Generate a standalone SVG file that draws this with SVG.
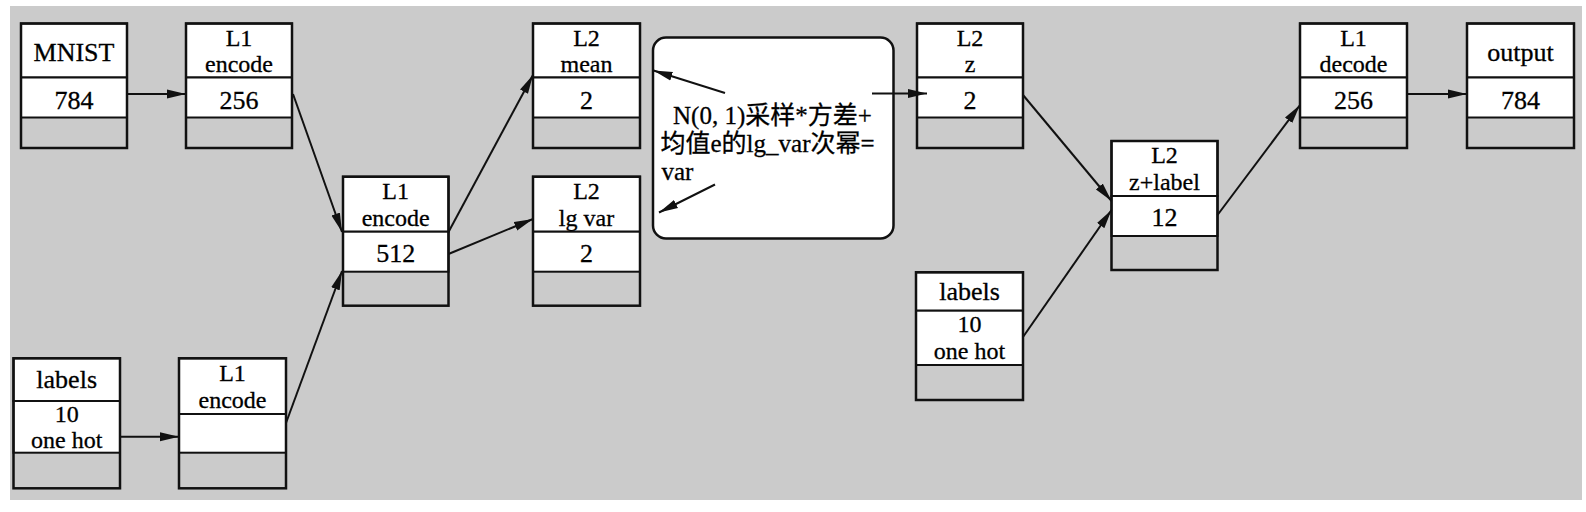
<svg xmlns="http://www.w3.org/2000/svg" width="1586" height="512" viewBox="0 0 1586 512">
<style>
.bg{fill:#cbcbcb}
.cell{fill:#fff;stroke:#111;stroke-width:2}
.frame{fill:none;stroke:#111;stroke-width:2.5}
.t{font-family:"Liberation Serif","Times New Roman","DejaVu Serif",serif;font-size:26px;fill:#000;stroke:#000;stroke-width:0.3;text-anchor:middle}
.t2{font-size:24px}
.note{font-family:"Liberation Serif","Noto Sans CJK SC",serif;font-size:25px;fill:#000;stroke:#000;stroke-width:0.3}
.edge{stroke:#111;stroke-width:2;fill:none;marker-end:url(#ah)}
</style>
<defs>
<marker id="ah" markerUnits="userSpaceOnUse" markerWidth="20" markerHeight="10" refX="19" refY="5" orient="auto">
<path d="M0,0.5 L19,5 L0,9.5 z" fill="#111"/>
</marker>
</defs>
<rect x="0" y="0" width="1586" height="512" fill="#fff"/>
<rect class="bg" x="10" y="6" width="1572" height="494"/>

<g id="mnist">
<rect class="cell" x="21" y="23.5" width="106" height="54"/>
<rect class="cell" x="21" y="77.5" width="106" height="40"/>
<rect class="frame" x="21" y="23.5" width="106" height="124.5"/>
<text class="t" x="74" y="61">MNIST</text>
<text class="t" x="74" y="108.5">784</text>
</g>

<g id="enc1">
<rect class="cell" x="186" y="23.5" width="106" height="54"/>
<rect class="cell" x="186" y="77.5" width="106" height="40"/>
<rect class="frame" x="186" y="23.5" width="106" height="124.5"/>
<text class="t t2" x="239" y="45.5">L1</text>
<text class="t t2" x="239" y="72">encode</text>
<text class="t" x="239" y="108.5">256</text>
</g>

<g id="enc_mid">
<rect class="cell" x="343" y="176.7" width="105.5" height="55"/>
<rect class="cell" x="343" y="231.7" width="105.5" height="40"/>
<rect class="frame" x="343" y="176.7" width="105.5" height="129"/>
<text class="t t2" x="395.7" y="199">L1</text>
<text class="t t2" x="395.7" y="225.5">encode</text>
<text class="t" x="395.7" y="262">512</text>
</g>

<g id="labels_left">
<rect class="cell" x="13.5" y="358.3" width="106.5" height="42.7"/>
<rect class="cell" x="13.5" y="401" width="106.5" height="51.7"/>
<rect class="frame" x="13.5" y="358.3" width="106.5" height="130"/>
<text class="t" x="66.7" y="387.5">labels</text>
<text class="t t2" x="66.7" y="421.5">10</text>
<text class="t t2" x="66.7" y="448">one hot</text>
</g>

<g id="enc_bottom">
<rect class="cell" x="179" y="358.3" width="107" height="55.7"/>
<rect class="cell" x="179" y="414" width="107" height="38.7"/>
<rect class="frame" x="179" y="358.3" width="107" height="130"/>
<text class="t t2" x="232.5" y="381">L1</text>
<text class="t t2" x="232.5" y="407.5">encode</text>
</g>

<g id="mean">
<rect class="cell" x="533" y="23.5" width="107" height="54"/>
<rect class="cell" x="533" y="77.5" width="107" height="40"/>
<rect class="frame" x="533" y="23.5" width="107" height="124.5"/>
<text class="t t2" x="586.5" y="45.5">L2</text>
<text class="t t2" x="586.5" y="72">mean</text>
<text class="t" x="586.5" y="108.5">2</text>
</g>

<g id="lgvar">
<rect class="cell" x="533" y="176.7" width="107" height="55"/>
<rect class="cell" x="533" y="231.7" width="107" height="40"/>
<rect class="frame" x="533" y="176.7" width="107" height="129"/>
<text class="t t2" x="586.5" y="199">L2</text>
<text class="t t2" x="586.5" y="225.5">lg var</text>
<text class="t" x="586.5" y="262">2</text>
</g>

<g id="note">
<rect x="653" y="37.5" width="240.5" height="201" rx="13" ry="13" fill="#fff" stroke="#111" stroke-width="2.5"/>
<text class="note" x="673" y="123.5">N(0, 1)采样*方差+</text>
<text class="note" x="660.5" y="151.5">均值e的lg_var次幂=</text>
<text class="note" x="661.5" y="179.5">var</text>
</g>

<g id="z">
<rect class="cell" x="917" y="23.5" width="106" height="54"/>
<rect class="cell" x="917" y="77.5" width="106" height="40"/>
<rect class="frame" x="917" y="23.5" width="106" height="124.5"/>
<text class="t t2" x="970" y="45.5">L2</text>
<text class="t t2" x="970" y="72">z</text>
<text class="t" x="970" y="108.5">2</text>
</g>

<g id="zlabel">
<rect class="cell" x="1111.5" y="141" width="106" height="55"/>
<rect class="cell" x="1111.5" y="196" width="106" height="40"/>
<rect class="frame" x="1111.5" y="141" width="106" height="129"/>
<text class="t t2" x="1164.5" y="163">L2</text>
<text class="t t2" x="1164.5" y="189.5">z+label</text>
<text class="t" x="1164.5" y="226">12</text>
</g>

<g id="labels_right">
<rect class="cell" x="916" y="272.3" width="107" height="38.4"/>
<rect class="cell" x="916" y="310.7" width="107" height="54.3"/>
<rect class="frame" x="916" y="272.3" width="107" height="127.7"/>
<text class="t" x="969.5" y="299.5">labels</text>
<text class="t t2" x="969.5" y="332">10</text>
<text class="t t2" x="969.5" y="358.5">one hot</text>
</g>

<g id="decode">
<rect class="cell" x="1300" y="23.5" width="107" height="54"/>
<rect class="cell" x="1300" y="77.5" width="107" height="40"/>
<rect class="frame" x="1300" y="23.5" width="107" height="124.5"/>
<text class="t t2" x="1353.5" y="45.5">L1</text>
<text class="t t2" x="1353.5" y="72">decode</text>
<text class="t" x="1353.5" y="108.5">256</text>
</g>

<g id="output">
<rect class="cell" x="1467" y="23.5" width="107" height="54"/>
<rect class="cell" x="1467" y="77.5" width="107" height="40"/>
<rect class="frame" x="1467" y="23.5" width="107" height="124.5"/>
<text class="t" x="1520.5" y="61">output</text>
<text class="t" x="1520.5" y="108.5">784</text>
</g>

<g id="connectors">
<path class="edge" d="M127,94 L186,94"/>
<path class="edge" d="M293,94 L342,232"/>
<path class="edge" d="M120,436.7 L179,436.7"/>
<path class="edge" d="M286,423 L342,271"/>
<path class="edge" d="M448.5,232 L533,75"/>
<path class="edge" d="M448.5,254 L533,219"/>
<path class="edge" d="M1023,95 L1111.5,201"/>
<path class="edge" d="M1023,337 L1111.5,210"/>
<path class="edge" d="M1217.5,215 L1300,105"/>
<path class="edge" d="M1407,94 L1467,94"/>
<path class="edge" d="M725,93 L653.5,70.5"/>
<path class="edge" d="M715,184.5 L659,212.5"/>
<path class="edge" d="M872,93.5 L927,93.5"/>
</g>
</svg>
